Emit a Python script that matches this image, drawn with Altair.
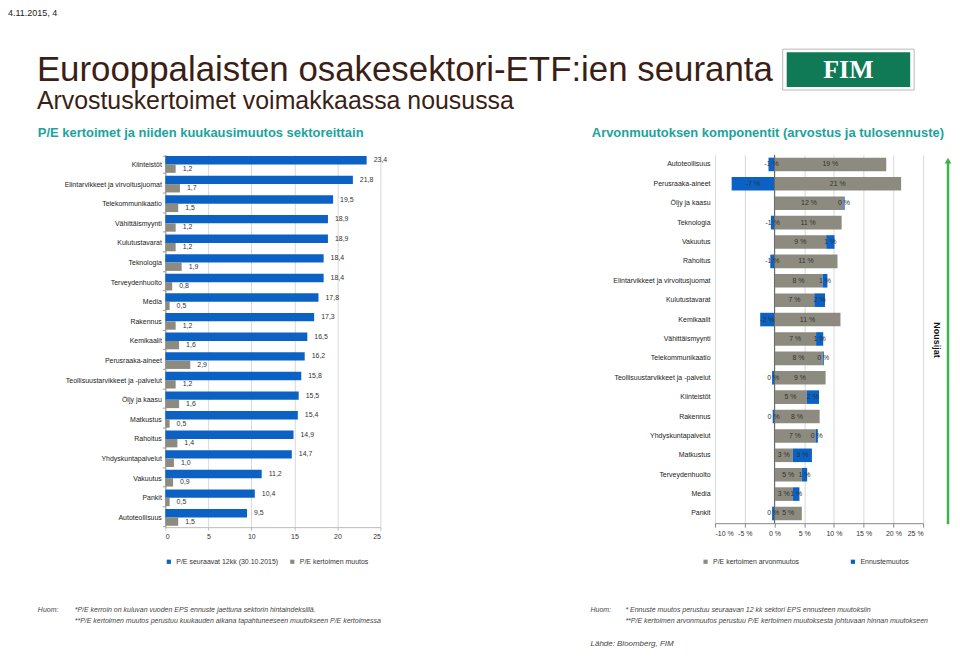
import altair as alt
import pandas as pd

# ---------------- data ----------------
left_sectors = ["Kiinteistöt", "Elintarvikkeet ja virvoitusjuomat", "Telekommunikaatio",
                "Vähittäismyynti", "Kulutustavarat", "Teknologia", "Terveydenhuolto", "Media",
                "Rakennus", "Kemikaalit", "Perusraaka-aineet", "Teollisuustarvikkeet ja -palvelut",
                "Öljy ja kaasu", "Matkustus", "Rahoitus", "Yhdyskuntapalvelut", "Vakuutus",
                "Pankit", "Autoteollisuus"]
pe_next12 = [23.4, 21.8, 19.5, 18.9, 18.9, 18.4, 18.4, 17.8, 17.3, 16.5, 16.2, 15.8, 15.5,
             15.4, 14.9, 14.7, 11.2, 10.4, 9.5]
pe_change = [1.2, 1.7, 1.5, 1.2, 1.2, 1.9, 0.8, 0.5, 1.2, 1.6, 2.9, 1.2, 1.6, 0.5, 1.4, 1.0,
             0.9, 0.5, 1.5]
left_series = ["P/E seuraavat 12kk (30.10.2015)", "P/E kertoimen muutos"]
left_ticks = [0, 5, 10, 15, 20, 25]

right_sectors = ["Autoteollisuus", "Perusraaka-aineet", "Öljy ja kaasu", "Teknologia", "Vakuutus",
                 "Rahoitus", "Elintarvikkeet ja virvoitusjuomat", "Kulutustavarat", "Kemikaalit",
                 "Vähittäismyynti", "Telekommunikaatio", "Teollisuustarvikkeet ja -palvelut",
                 "Kiinteistöt", "Rakennus", "Yhdyskuntapalvelut", "Matkustus", "Terveydenhuolto",
                 "Media", "Pankit"]
valuation_change = [18.8, 21.3, 11.6, 11.3, 8.7, 10.6, 8.1, 6.7, 11.1, 7.0, 8.1, 8.6, 5.4, 7.6,
                    6.9, 3.1, 4.6, 3.1, 4.6]
forecast_change = [-1.0, -7.2, 0.2, -0.6, 1.4, -0.7, 0.8, 1.8, -2.4, 1.2, 0.2, -0.4, 2.1, -0.3,
                   0.4, 3.2, 0.9, 1.1, -0.4]
right_series = ["P/E kertoimen arvonmuutos", "Ennustemuutos"]
right_ticks = [-10, -5, 0, 5, 10, 15, 20, 25]

BLUE = "#0b62c4"
GRAY = "#8d8b7f"
TEAL = "#1ba39c"
GREEN = "#3cb44b"
BROWN = "#3b1f17"
NOTE = "#444"
FONT = "Liberation Sans"

one = alt.Data(values=[{}])


def label(text, x, y, size, color="#222", weight="normal", style="normal", align="left",
          baseline="alphabetic", font=FONT, angle=0):
    return alt.Chart(one).mark_text(text=text, align=align, baseline=baseline, fontSize=size,
                                    color=color, fontWeight=weight, fontStyle=style,
                                    font=font, angle=angle).encode(x=alt.value(x), y=alt.value(y))


# ---------------- left panel ----------------
rows = []
for s, a, b in zip(left_sectors, pe_next12, pe_change):
    rows.append({"sector": s, "series": left_series[0], "value": a,
                 "label": f"{a:.1f}".replace(".", ",")})
    rows.append({"sector": s, "series": left_series[1], "value": b,
                 "label": f"{b:.1f}".replace(".", ",")})
df_left = pd.DataFrame(rows)

yl_scale = alt.Scale(paddingInner=0.146, paddingOuter=0.07)
yl_axis = alt.Axis(title=None, labelFontSize=7, labelColor="#222", domainColor="#999",
                   tickColor="#999", tickSize=3, tickBand="extent", labelPadding=1,
                   labelLimit=250)
yo = alt.YOffset("series:N", sort=left_series)
xl_scale = alt.Scale(domain=[0, 25], nice=False)
xl_axis = alt.Axis(values=left_ticks, title=None, grid=True, gridColor="#d9d9d9",
                   domainColor="#bbb", tickColor="#bbb", tickSize=3, labelFontSize=7,
                   labelColor="#333", labelPadding=2, labelOverlap=False)

left_bars = alt.Chart(df_left).mark_bar().encode(
    y=alt.Y("sector:N", sort=left_sectors, scale=yl_scale, axis=yl_axis),
    yOffset=yo,
    x=alt.X("value:Q", scale=xl_scale, axis=xl_axis),
    color=alt.Color("series:N", scale=alt.Scale(domain=left_series, range=[BLUE, GRAY]),
                    legend=alt.Legend(title=None, orient="none", legendX=0, legendY=405,
                                      direction="horizontal", symbolType="square",
                                      symbolSize=18, symbolStrokeWidth=0, labelFontSize=7,
                                      labelColor="#333", columnPadding=10)),
)
left_text = alt.Chart(df_left).mark_text(align="left", dx=7, fontSize=7, color="#333").encode(
    y=alt.Y("sector:N", sort=left_sectors, scale=yl_scale, axis=yl_axis),
    yOffset=yo,
    x=alt.X("value:Q", scale=xl_scale, axis=xl_axis),
    text="label:N")

# header and left notes (positions relative to the left plot's top-left corner)
left_deco = [
    label("4.11.2015, 4", -158, -146, 9, baseline="top"),
    label("Eurooppalaisten osakesektori-ETF:ien seuranta", -129, -74, 35, color=BROWN),
    label("Arvostuskertoimet voimakkaassa nousussa", -129, -46, 25, color=BROWN),
    label("P/E kertoimet ja niiden kuukausimuutos sektoreittain", -128, -18, 13, color=TEAL,
          weight="bold"),
    label("Huom:", -128, 457, 7, color=NOTE, style="italic", baseline="middle"),
    label("*P/E kerroin on kuluvan vuoden EPS ennuste jaettuna sektorin hintaindeksillä.",
          -91, 457, 7, color=NOTE, style="italic", baseline="middle"),
    label("**P/E kertoimen muutos perustuu kuukauden aikana tapahtuneeseen muutokseen P/E kertoimessa",
          -91, 468, 7, color=NOTE, style="italic", baseline="middle"),
]
left = alt.layer(left_bars, left_text, *left_deco).properties(width=216, height=374)

# ---------------- right panel ----------------
rows = []
for s, g, b in zip(right_sectors, valuation_change, forecast_change):
    rows.append({"sector": s, "series": right_series[0], "start": 0.0, "end": g,
                 "mid": g / 2, "label": f"{round(g):d} %"})
    if b >= 0:
        st, en = g, g + b
    else:
        st, en = b, 0.0
    rows.append({"sector": s, "series": right_series[1], "start": st, "end": en,
                 "mid": (st + en) / 2, "label": f"{round(b):d} %"})
df_right = pd.DataFrame(rows)

yr_scale = alt.Scale(paddingInner=0.3, paddingOuter=0.15)
yr_axis = alt.Axis(title=None, ticks=False, domain=False, labelFontSize=7,
                   labelColor="#222", labelPadding=5, labelLimit=250)
xr_scale = alt.Scale(domain=[-10, 25], nice=False)
xr_axis = alt.Axis(values=right_ticks, labelExpr="datum.value + ' %'", title=None,
                   grid=True, gridColor="#d9d9d9", domainColor="#888", tickColor="#888",
                   tickSize=4, labelFontSize=7, labelColor="#333", labelPadding=2,
                   labelOverlap=False)

right_bars = alt.Chart(df_right).mark_bar().encode(
    y=alt.Y("sector:N", sort=right_sectors, scale=yr_scale, axis=yr_axis),
    x=alt.X("start:Q", scale=xr_scale, axis=xr_axis), x2="end:Q",
    color=alt.Color("series:N", scale=alt.Scale(domain=right_series, range=[GRAY, BLUE]),
                    legend=alt.Legend(title=None, orient="none", legendX=-13, legendY=405,
                                      direction="horizontal", symbolType="square",
                                      symbolSize=18, symbolStrokeWidth=0, labelFontSize=7,
                                      labelColor="#333", columnPadding=50)),
)
right_text = alt.Chart(df_right).mark_text(fontSize=7, color="#333").encode(
    y=alt.Y("sector:N", sort=right_sectors, scale=yr_scale, axis=yr_axis),
    x=alt.X("mid:Q", scale=xr_scale, axis=xr_axis),
    text="label:N")
zero_rule = alt.Chart(pd.DataFrame({"start": [0]})).mark_rule(color="#666").encode(
    x=alt.X("start:Q", scale=xr_scale, axis=xr_axis))
arrow_line = alt.Chart(one).mark_rule(color=GREEN, strokeWidth=2.5).encode(
    x=alt.value(234), y=alt.value(8), y2=alt.value(371))
arrow_head = alt.Chart(one).mark_point(shape="triangle-up", filled=True, color=GREEN,
                                       size=45, opacity=1).encode(x=alt.value(234), y=alt.value(6))
logo_outer = alt.Chart(one).mark_rect(fill="white", stroke="#b8b8b8", strokeWidth=1).encode(
    x=alt.value(68), x2=alt.value(200), y=alt.value(-106), y2=alt.value(-65))
logo_inner = alt.Chart(one).mark_rect(fill="#0f7a55").encode(
    x=alt.value(72), x2=alt.value(196), y=alt.value(-103), y2=alt.value(-68))

right_deco = [
    arrow_line, arrow_head,
    label("Nousijat", 223, 186, 9, color="#111", weight="bold", align="center",
          baseline="middle", angle=90),
    logo_outer, logo_inner,
    label("FIM", 134, -85, 26, color="white", weight="bold", align="center",
          baseline="middle", font="Liberation Serif"),
    label("Arvonmuutoksen komponentit (arvostus ja tulosennuste)", 230, -18, 13, color=TEAL,
          weight="bold", align="right"),
    label("Huom:", -125, 457, 7, color=NOTE, style="italic", baseline="middle"),
    label("* Ennuste muutos perustuu seuraavan 12 kk sektori EPS ennusteen muutoksiin",
          -90, 457, 7, color=NOTE, style="italic", baseline="middle"),
    label("**P/E kertoimen arvonmuutos perustuu P/E kertoimen muutoksesta johtuvaan hinnan muutokseen",
          -90, 468, 7, color=NOTE, style="italic", baseline="middle"),
    label("Lähde: Bloomberg, FIM", -125, 491, 8, color=NOTE, style="italic",
          baseline="middle"),
]
right = alt.layer(right_bars, zero_rule, right_text, *right_deco).properties(width=209, height=370)

chart = alt.hconcat(left, right, spacing=336, bounds="flush").resolve_scale(
    x="independent", y="independent", color="independent"
).resolve_legend(color="independent").properties(
    padding=0, background="white"
).configure(font=FONT).configure_view(strokeWidth=0).configure_axis(
    labelFont=FONT).configure_legend(labelFont=FONT)

chart.save("out.html", embed_options={"renderer": "svg", "actions": False})
